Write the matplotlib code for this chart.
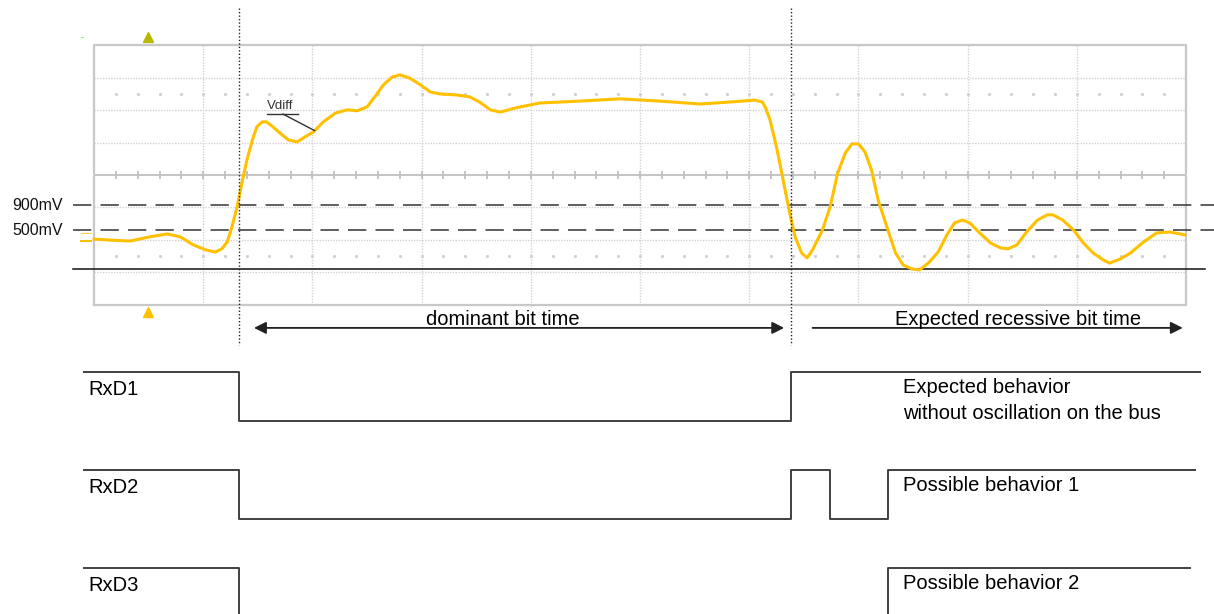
import numpy as np
import matplotlib
matplotlib.use("Agg")
import matplotlib.pyplot as plt

plt.rcParams["font.family"] = ["Liberation Sans", "DejaVu Sans"]

# ------------------------------------
# Data (x in scope divisions, y in scope divisions)
# ------------------------------------
vdiff_t = [0.00, 0.15, 0.33, 0.51, 0.67, 0.79, 0.91, 1.02, 1.11, 1.17, 1.22, 1.26,
           1.31, 1.36, 1.40, 1.45, 1.49, 1.54, 1.58, 1.64, 1.70, 1.78, 1.86, 1.93,
           2.01, 2.10, 2.21, 2.32, 2.41, 2.50, 2.57, 2.65, 2.73, 2.80, 2.89, 2.99,
           3.08, 3.17, 3.32, 3.44, 3.53, 3.63, 3.72, 3.86, 4.08, 4.45, 4.82, 5.18,
           5.55, 5.82, 6.05, 6.12, 6.15, 6.19, 6.25, 6.31, 6.37, 6.42, 6.48, 6.53,
           6.58, 6.67, 6.74, 6.81, 6.88, 6.94, 7.00, 7.06, 7.12, 7.18, 7.26, 7.34,
           7.41, 7.49, 7.56, 7.64, 7.73, 7.81, 7.88, 7.95, 8.02, 8.11, 8.21, 8.30,
           8.37, 8.45, 8.54, 8.64, 8.73, 8.78, 8.87, 8.97, 9.06, 9.15, 9.24, 9.30,
           9.40, 9.49, 9.61, 9.73, 9.85, 9.99]
vdiff_v = [-1.98, -2.01, -2.04, -1.91, -1.82, -1.91, -2.16, -2.31, -2.38, -2.28, -2.07, -1.64,
           -0.99, -0.15, 0.46, 1.08, 1.48, 1.64, 1.64, 1.48, 1.30, 1.08, 1.02, 1.17,
           1.33, 1.64, 1.91, 2.01, 1.98, 2.10, 2.41, 2.78, 3.02, 3.09, 2.99, 2.78,
           2.56, 2.50, 2.47, 2.41, 2.25, 2.01, 1.94, 2.07, 2.22, 2.28, 2.35, 2.28,
           2.19, 2.25, 2.31, 2.25, 2.07, 1.70, 0.86, -0.15, -1.17, -1.91, -2.41, -2.56,
           -2.31, -1.70, -0.99, 0.06, 0.68, 0.96, 0.96, 0.71, 0.15, -0.77, -1.60, -2.41,
           -2.78, -2.90, -2.93, -2.72, -2.38, -1.85, -1.48, -1.39, -1.48, -1.79, -2.10, -2.25,
           -2.28, -2.16, -1.76, -1.39, -1.23, -1.23, -1.39, -1.70, -2.10, -2.41, -2.62, -2.72,
           -2.59, -2.41, -2.07, -1.79, -1.76, -1.85]

threshold_labels = ["900mV", "500mV"]
threshold_levels = [-0.93, -1.70]
zero_level = -2.90

bit_edges = [1.33, 6.38]

rxd_names = ["RxD1", "RxD2", "RxD3"]
rxd_high = [-6.08, -9.10, -12.13]
rxd_swing = 1.51
rxd_t = [
    [-0.09, 1.33, 1.33, 6.38, 6.38, 10.13],
    [-0.09, 1.33, 1.33, 6.38, 6.38, 6.74, 6.74, 7.27, 7.27, 10.08],
    [-0.09, 1.33, 1.33, 7.27, 7.27, 10.04],
]
rxd_state = [
    [1, 1, 0, 0, 1, 1],
    [1, 1, 0, 0, 1, 1, 0, 0, 1, 1],
    [1, 1, 0, 0, 1, 1],
]
rxd_notes = [["Expected behavior", "without oscillation on the bus"],
             ["Possible behavior 1"],
             ["Possible behavior 2"]]

# ------------------------------------
# Figure
# ------------------------------------
fig = plt.figure(figsize=(12.14, 6.14), dpi=100)
ax = fig.add_axes([0, 0, 1, 1])
ax.set_xlim(-0.861, 10.256)
ax.set_ylim(-13.55, 5.40)
ax.axis("off")

# ------------------------------------
# Scope grid
# ------------------------------------
grid_c = "#d2d2d2"
ax.vlines(np.arange(1, 10), -4, 4, colors=grid_c, linestyles=(0, (1, 1)), lw=1)
ax.hlines([-3, -2, -1, 1, 2, 3], 0, 10, colors=grid_c, linestyles=(0, (1, 1)), lw=1)
ax.hlines(0, 0, 10, colors="#c0c0c0", lw=1.3)
minor = np.arange(0.2, 10, 0.2)
ax.vlines(minor, -0.12, 0.12, colors="#c0c0c0", lw=1.3)
ax.plot(minor, np.full(minor.size, 2.5), ls="none", marker="s", ms=1.1, color="#d0d0d0")
ax.plot(minor, np.full(minor.size, -2.5), ls="none", marker="s", ms=1.1, color="#d0d0d0")
ax.plot([0, 10, 10, 0, 0], [-4, -4, 4, 4, -4], color="#c8c8c8", lw=1.6)

# trigger / position markers
ax.plot(0.49, 4.26, marker="^", ms=7, color="#b8b800", ls="none", clip_on=False)
ax.plot(0.49, -4.22, marker="^", ms=7, color="#ffc000", ls="none", clip_on=False)
ax.plot([-0.12, -0.03], [-2.04, -2.04], color="#ffc000", lw=1.5)
ax.plot([-0.12, -0.03], [-1.80, -1.80], color="#ffd040", lw=0.8)
ax.plot([-0.12, -0.10], [4.25, 4.25], color="#7fff7f", lw=0.8)

# ------------------------------------
# Thresholds
# ------------------------------------
for lab, lev in zip(threshold_labels, threshold_levels):
    ax.plot([-0.19, 10.256], [lev, lev], color="#333333", lw=1.1, ls=(0, (12, 6)))
    ax.text(-0.285, lev, lab, ha="right", va="center", fontsize=11.5, color="#111111")
ax.plot([-0.19, 10.17], [zero_level, zero_level], color="#111111", lw=1.1)

# ------------------------------------
# Vdiff trace
# ------------------------------------
ax.plot(vdiff_t, vdiff_v, color="#ffc000", lw=2.2,
        solid_joinstyle="round", solid_capstyle="round")
ax.text(1.584, 2.13, "Vdiff", fontsize=9.5, ha="left", va="center", color="#333333")
ax.plot([1.584, 1.87], [1.88, 1.88], color="#333333", lw=1)
ax.plot([1.73, 2.02], [1.88, 1.37], color="#333333", lw=1)

# ------------------------------------
# Bit time markers
# ------------------------------------
for e in bit_edges:
    ax.plot([e, e], [5.15, -5.25], color="#222222", lw=1, ls=(0, (1, 1.5)))

ax.annotate("", xy=(1.465, -4.72), xytext=(6.32, -4.72),
            arrowprops=dict(arrowstyle="<|-|>", color="#222222", lw=1.3,
                            mutation_scale=18, shrinkA=0, shrinkB=0))
ax.annotate("", xy=(9.97, -4.72), xytext=(6.58, -4.72),
            arrowprops=dict(arrowstyle="-|>", color="#222222", lw=1.3,
                            mutation_scale=18, shrinkA=0, shrinkB=0))
ax.text(3.74, -4.64, "dominant bit time", ha="center", va="baseline", fontsize=14.5)
ax.text(8.46, -4.64, "Expected recessive bit time", ha="center", va="baseline", fontsize=14.5)

# ------------------------------------
# RxD traces
# ------------------------------------
for name, hi, ts, st, notes in zip(rxd_names, rxd_high, rxd_t, rxd_state, rxd_notes):
    ys = [hi - rxd_swing * (1 - s) for s in st]
    ax.plot(ts, ys, color="#404040", lw=1.4)
    ax.text(-0.055, hi - 0.55, name, ha="left", va="center", fontsize=14.5)
    for i, n in enumerate(notes):
        ax.text(7.41, hi - 0.48 - 0.80 * i, n, ha="left", va="center", fontsize=14.5)

plt.savefig("out.png", dpi=100)
